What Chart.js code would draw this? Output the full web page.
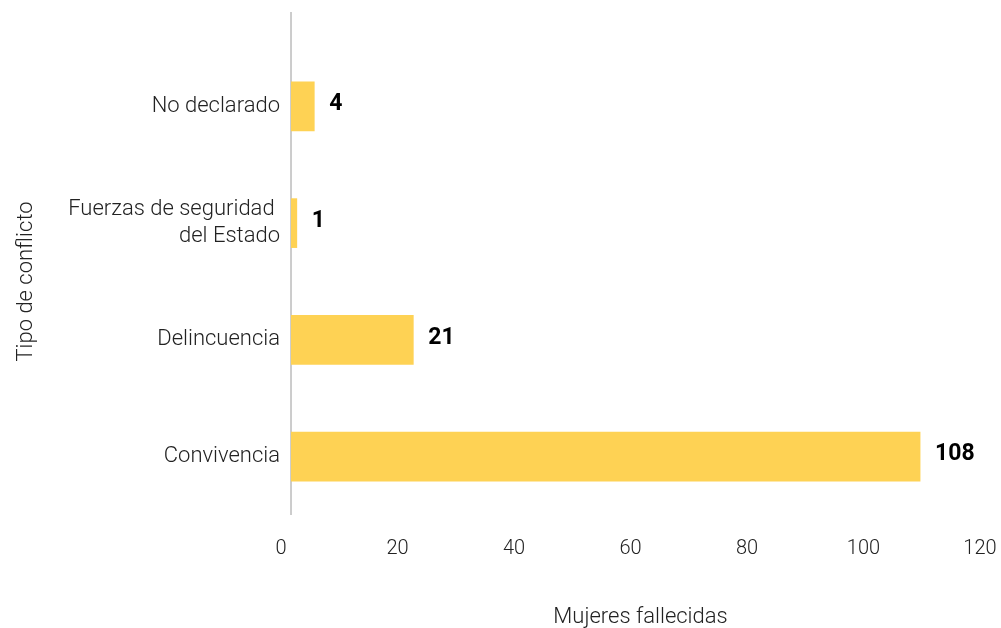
<!DOCTYPE html>
<html>
<head>
<meta charset="utf-8">
<script src="https://cdn.jsdelivr.net/npm/chart.js@4"></script>
<style>
  body { margin: 0; background: #fff; }
</style>
</head>
<body>
<canvas id="chart" width="1001" height="628"></canvas>
<script>
// datos
var categorias = ['No declarado', ['Fuerzas de seguridad ', 'del Estado'], 'Delincuencia', 'Convivencia'];
var mujeres = [4, 1, 21, 108];
var ticksX = [0, 20, 40, 60, 80, 100, 120];

// etiquetas de valor al final de cada barra
var valueLabels = {
    id: 'valueLabels',
    afterDatasetsDraw: function (chart) {
        var ctx = chart.ctx;
        var meta = chart.getDatasetMeta(0);
        ctx.save();
        ctx.font = 'bold 23px Roboto';
        ctx.fillStyle = '#000';
        ctx.textAlign = 'left';
        ctx.textBaseline = 'middle';
        meta.data.forEach(function (bar, i) {
            ctx.fillText(mujeres[i], bar.x + 15, bar.y - 2);
        });
        ctx.restore();
    }
};

// linea del eje vertical (llega hasta arriba)
var ejeLinea = {
    id: 'ejeLinea',
    beforeDatasetsDraw: function (chart) {
        var ctx = chart.ctx;
        var x = chart.scales.x.getPixelForValue(0);
        ctx.save();
        ctx.strokeStyle = '#9a9a9a';
        ctx.lineWidth = 1;
        ctx.beginPath();
        ctx.moveTo(x, 12);
        ctx.lineTo(x, chart.chartArea.bottom);
        ctx.stroke();
        ctx.restore();
    }
};

new Chart(document.getElementById('chart'), {
    type: 'bar',
    data: {
        labels: categorias,
        datasets: [{
            data: mujeres,
            backgroundColor: '#FED254',
            borderWidth: 0,
            barThickness: 49
        }]
    },
    options: {
        indexAxis: 'y',
        responsive: false,
        animation: false,
        layout: { padding: { top: 48, right: 11, left: 0, bottom: -3 } },
        plugins: {
            legend: { display: false },
            tooltip: { enabled: false }
        },
        scales: {
            x: {
                min: 0,
                max: 120,
                afterBuildTicks: function (scale) {
                    scale.ticks = ticksX.map(function (v) { return { value: v }; });
                },
                afterFit: function (scale) {
                    scale.height = 116;
                    scale.paddingRight = 0;
                    scale.paddingLeft = 0;
                },
                grid: { display: false },
                border: { display: false },
                ticks: {
                    color: '#222',
                    font: { family: 'Roboto', size: 20, weight: 300 },
                    padding: 14,
                    labelOffset: -10,
                    maxRotation: 0
                },
                title: {
                    display: true,
                    text: 'Mujeres fallecidas',
                    color: '#222',
                    font: { family: 'Roboto', size: 22, weight: 300 },
                    padding: { top: 0, bottom: 0 }
                }
            },
            y: {
                afterFit: function (scale) {
                    scale.width = 291;
                },
                grid: { display: false },
                border: { display: false },
                ticks: {
                    color: '#222',
                    font: { family: 'Roboto', size: 22, weight: 300 },
                    padding: 3
                },
                title: {
                    display: true,
                    text: 'Tipo de conflicto',
                    color: '#222',
                    font: { family: 'Roboto', size: 22, weight: 300 },
                    padding: { top: 13, bottom: 0 }
                }
            }
        }
    },
    plugins: [valueLabels, ejeLinea]
});
</script>
</body>
</html>
